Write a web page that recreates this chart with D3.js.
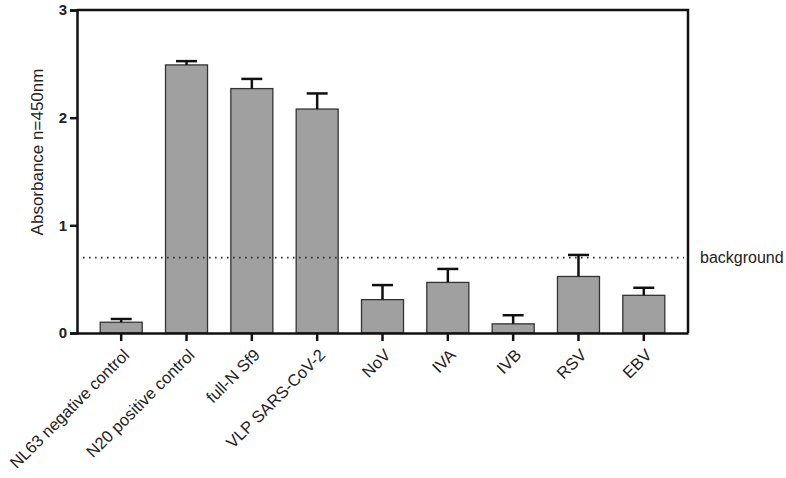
<!DOCTYPE html>
<html lang="en">
<head>
    <meta charset="UTF-8">
    <title>Absorbance</title>
    <script src="https://d3js.org/d3.v7.min.js"></script>
    <style>
        body { margin: 0; background: #fff; }
        svg { display: block; }
        text { font-family: "Liberation Sans", Arial, sans-serif; fill: #222; }
    </style>
</head>
<body>
    <svg width="786" height="478"></svg>
    <script>
        var categories = ["NL63 negative control", "N20 positive control", "full-N Sf9", "VLP SARS-CoV-2",
            "NoV", "IVA", "IVB", "RSV", "EBV"];
        var means = [0.10, 2.49, 2.27, 2.08, 0.31, 0.47, 0.085, 0.525, 0.35];
        var errors = [0.03, 0.035, 0.09, 0.145, 0.135, 0.125, 0.08, 0.2, 0.07];
        var yTicks = [0, 1, 2, 3];
        var backgroundLevel = 0.7;

        var svg = d3.select("svg");
        var plotLeft = 77, plotRight = 688, plotTop = 10, plotBottom = 333;

        var xScale = d3.scaleBand().domain(categories).range([plotLeft, plotRight])
            .paddingInner(0.357).paddingOuter(0.355);
        var yScale = d3.scaleLinear().domain([0, 3]).range([plotBottom, plotTop]);

        // bars
        svg.selectAll("rect.bar")
            .data(categories)
            .enter()
            .append("rect")
            .attr("class", "bar")
            .attr("x", function (d) { return xScale(d) })
            .attr("width", xScale.bandwidth())
            .attr("y", function (d, i) { return yScale(means[i]) })
            .attr("height", function (d, i) { return yScale(0) - yScale(means[i]) })
            .attr("fill", "#a0a0a0")
            .attr("stroke", "#333")
            .attr("stroke-width", 1.3);

        // error bars (upper only)
        var capW = xScale.bandwidth() / 4;
        svg.selectAll("line.err")
            .data(categories)
            .enter()
            .append("line")
            .attr("class", "err")
            .attr("x1", function (d) { return xScale(d) + xScale.bandwidth() / 2 })
            .attr("x2", function (d) { return xScale(d) + xScale.bandwidth() / 2 })
            .attr("y1", function (d, i) { return yScale(means[i]) })
            .attr("y2", function (d, i) { return yScale(means[i] + errors[i]) })
            .attr("stroke", "#111")
            .attr("stroke-width", 2.5);

        svg.selectAll("line.cap")
            .data(categories)
            .enter()
            .append("line")
            .attr("class", "cap")
            .attr("x1", function (d) { return xScale(d) + xScale.bandwidth() / 2 - capW })
            .attr("x2", function (d) { return xScale(d) + xScale.bandwidth() / 2 + capW })
            .attr("y1", function (d, i) { return yScale(means[i] + errors[i]) })
            .attr("y2", function (d, i) { return yScale(means[i] + errors[i]) })
            .attr("stroke", "#111")
            .attr("stroke-width", 2.5);

        // background dotted line
        svg.append("line")
            .attr("x1", plotLeft + 6).attr("x2", plotRight - 4)
            .attr("y1", yScale(backgroundLevel)).attr("y2", yScale(backgroundLevel))
            .attr("stroke", "#333")
            .attr("stroke-width", 1.6)
            .attr("stroke-dasharray", "1.6,4.4");
        svg.append("text")
            .attr("x", plotRight + 12).attr("y", yScale(backgroundLevel))
            .attr("dy", "0.35em")
            .style("font-size", "16px")
            .text("background");

        // frame
        svg.append("path")
            .attr("d", "M" + plotLeft + "," + plotTop + "H" + plotRight + "V" + plotBottom)
            .attr("fill", "none")
            .attr("stroke", "#111")
            .attr("stroke-width", 2.5);

        // axes
        var yAxis = d3.axisLeft(yScale).tickValues(yTicks).tickSize(7).tickPadding(3)
            .tickFormat(d3.format("d"));
        var yG = svg.append("g").attr("transform", "translate(" + plotLeft + ",0)").call(yAxis);
        yG.select(".domain").attr("stroke", "#111").attr("stroke-width", 2.5);
        yG.selectAll(".tick line").attr("stroke", "#111").attr("stroke-width", 2.5);
        yG.selectAll(".tick text").style("font-size", "15px").style("font-weight", "bold")
            .style("font-family", "Liberation Sans, Arial, sans-serif").attr("fill", "#222");

        var xAxis = d3.axisBottom(xScale).tickSize(8).tickSizeOuter(0);
        var xG = svg.append("g").attr("transform", "translate(0," + plotBottom + ")").call(xAxis);
        xG.select(".domain").attr("stroke", "#111").attr("stroke-width", 2.5);
        xG.selectAll(".tick line").attr("stroke", "#111").attr("stroke-width", 2.5);
        xG.selectAll(".tick text")
            .style("font-size", "16.5px")
            .style("font-family", "Liberation Sans, Arial, sans-serif")
            .attr("fill", "#222")
            .attr("text-anchor", "end")
            .attr("x", 5).attr("y", 19).attr("dy", "0.35em")
            .attr("transform", "rotate(-45 5 19)");

        svg.append("text")
            .attr("transform", "translate(43,152) rotate(-90)")
            .attr("text-anchor", "middle")
            .style("font-size", "17px")
            .text("Absorbance n=450nm");
    </script>
</body>
</html>
